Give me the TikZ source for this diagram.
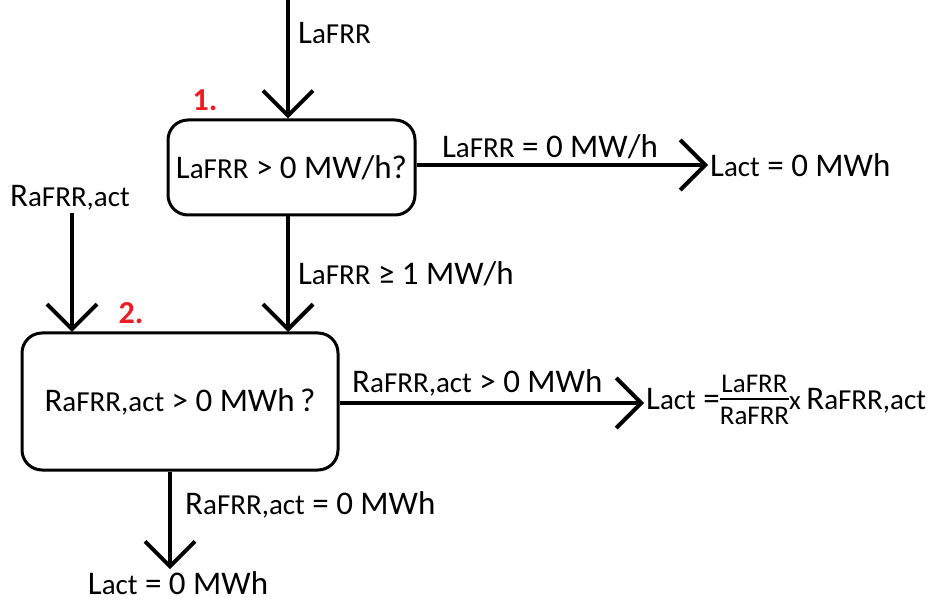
\documentclass[tikz,border=0pt]{standalone}
\usepackage{fontspec}
\setmainfont{Carlito}
\usetikzlibrary{arrows.meta}
\definecolor{stepred}{RGB}{237,28,36}
% big first letter, rest a bit smaller
\newcommand{\lv}[2]{#1{\fontsize{29}{32}\selectfont #2}}
\newcommand{\frc}[2]{$\vcenter{\hbox{\fontsize{27}{29}\selectfont\setlength{\arrayrulewidth}{2pt}%
  \begin{tabular}{@{}c@{}}#1\\[-4pt]\hline\rule{0pt}{25pt}#2\end{tabular}}}$}

\begin{document}
\begin{tikzpicture}[x=1pt,y=-1pt]
        \tikzstyle{every node}=[font=\fontsize{33}{36}\selectfont,inner sep=2pt]
        \tikzstyle{quest}=[draw,line width=3pt,rounded corners=20pt]
        \tikzstyle{arr}=[line width=4pt,-{Straight Barb[length=25pt,width=50pt,line width=4pt]}]
        \tikzstyle{num}=[text=stepred,font=\fontsize{32}{34}\selectfont\bfseries]
        \useasboundingbox (0,0) rectangle (948,601);
        % questions
        \node[quest,minimum width=247pt,minimum height=95pt] (q1) at (291.5,167.5) {\lv{L}{aFRR} > 0 MW/h?};
        \node[quest,minimum width=316pt,minimum height=137pt] (q2) at (180,401.5) {\lv{R}{aFRR,act} > 0 MWh\,?};
        \node[num] (n1) at (205,100) {1.};
        \node[num] (n2) at (131,313) {2.};
        % inputs
        \coordinate (top) at (288,0);
        \node[anchor=west] (lafrr) at (296,33) {\lv{L}{aFRR}};
        \node (rafrr) at (70,198) {\lv{R}{aFRR,act}};
        % results
        \node[anchor=west] (res1) at (708,165) {\lv{L}{act} = 0 MWh};
        \node[anchor=west] (res2) at (644,403) {\lv{L}{act} =\frc{LaFRR}{RaFRR}{\fontsize{27}{29}\selectfont x}\,\lv{R}{aFRR,act}};
        \node (res3) at (178,583) {\lv{L}{act} = 0 MWh};
        % arrows
        \draw[arr] (top) -- (top |- q1.north);
        \draw[arr] (q1.east |- 0,165) -- (res1.west);
        \draw[arr] (288,215) -- (288,332) node[midway,right=6pt] {\lv{L}{aFRR} ≥ 1 MW/h};
        \draw[arr] (rafrr.south -| 72,0) -- (72,332);
        \draw[arr] (q2.east |- 0,403) -- (res2.west);
        \draw[arr] ([xshift=-10pt]q2.south) -- ([xshift=-10pt]q2.south |- res3.north);
        % labels on arrows
        \node (l1) at (550,147) {\lv{L}{aFRR} = 0 MW/h};
        \node[anchor=west] (l2) at (350,383) {\lv{R}{aFRR,act} > 0 MWh};
        \node[anchor=west] (l3) at (183,505) {\lv{R}{aFRR,act} = 0 MWh};
\end{tikzpicture}
\end{document}
